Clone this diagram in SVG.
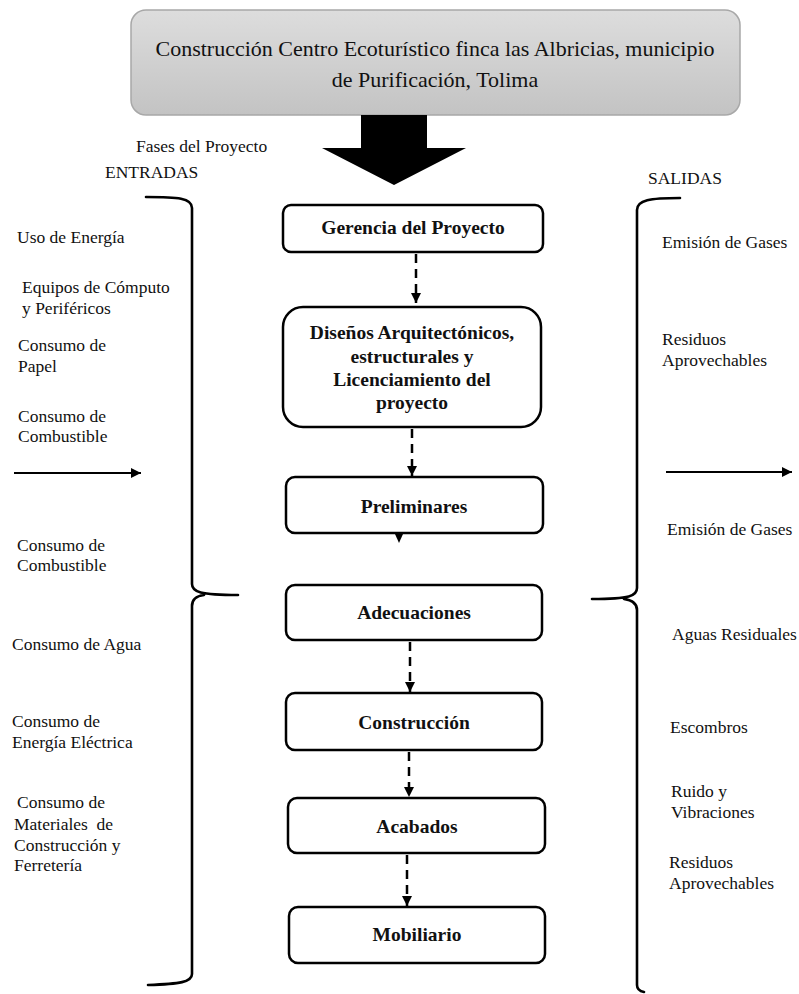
<svg xmlns="http://www.w3.org/2000/svg" width="799" height="994" viewBox="0 0 799 994">
  <defs>
    <linearGradient id="titleFill" x1="0" y1="0" x2="0" y2="1">
      <stop offset="0" stop-color="#dddddd"/>
      <stop offset="1" stop-color="#c3c3c3"/>
    </linearGradient>
    <marker id="tri" viewBox="0 0 10 10" refX="10" refY="5" markerWidth="10" markerHeight="10" markerUnits="userSpaceOnUse" orient="auto">
      <path d="M0,0 L10,5 L0,10 Z" fill="#000"/>
    </marker>
  </defs>
  <style>
    text { font-family: "Liberation Serif", "Times New Roman", serif; fill: #111; }
    .side { font-size: 17.5px; }
    .title { font-size: 22px; text-anchor: middle; }
    .lbl { font-size: 19.5px; font-weight: bold; text-anchor: middle; }
    .box { fill: #fff; stroke: #000; stroke-width: 2.5; }
    .dash { fill: none; stroke: #000; stroke-width: 2.5; stroke-dasharray: 9 6; marker-end: url(#tri); }
    .brace { fill: none; stroke: #000; stroke-width: 2.6; stroke-linecap: round; }
    .flow { fill: none; stroke: #000; stroke-width: 2; marker-end: url(#tri); }
  </style>

  <rect width="799" height="994" fill="#fff"/>

  <!-- project title -->
  <g id="title">
    <rect x="131" y="10" width="609" height="105" rx="15" fill="url(#titleFill)" stroke="#a8a8a8" stroke-width="1.5"/>
    <text class="title" x="435" y="56">Construcción Centro Ecoturístico finca las Albricias, municipio</text>
    <text class="title" x="435" y="87">de Purificación, Tolima</text>
  </g>

  <!-- big downward arrow -->
  <path id="bigArrow" d="M361,115 L427,115 L427,148 L466,148 L394,185 L322,148 L361,148 Z" fill="#000"/>

  <!-- headings -->
  <text class="side" x="136" y="152">Fases del Proyecto</text>
  <text class="side" x="105" y="178">ENTRADAS</text>
  <text class="side" x="648" y="184">SALIDAS</text>

  <!-- braces -->
  <path class="brace" d="M146,197 C178,197 192,198 192,208 L192,584 C192,592 200,595 238,595 M204,595 C196,596 192,600 192,606 L192,974 C192,982 180,984 148,985"/>
  <path class="brace" d="M680,198 C650,198 637,200 637,210 L637,588 C637,596 630,599 592,599 M624,599 C632,600 637,603 637,610 L637,985 C637,989 639,991 644,992"/>

  <!-- side flow arrows -->
  <line class="flow" x1="14" y1="473" x2="141" y2="473"/>
  <line class="flow" x1="666" y1="472" x2="792" y2="472"/>

  <!-- inputs -->
  <g id="inputs">
    <text class="side" x="17" y="243">Uso de Energía</text>
    <text class="side" x="22" y="293">Equipos de Cómputo</text>
    <text class="side" x="22" y="314">y Periféricos</text>
    <text class="side" x="18" y="351">Consumo de</text>
    <text class="side" x="18" y="372">Papel</text>
    <text class="side" x="18" y="422">Consumo de</text>
    <text class="side" x="18" y="442">Combustible</text>
    <text class="side" x="17" y="551">Consumo de</text>
    <text class="side" x="17" y="571">Combustible</text>
    <text class="side" x="12" y="650">Consumo de Agua</text>
    <text class="side" x="12" y="727">Consumo de</text>
    <text class="side" x="12" y="748">Energía Eléctrica</text>
    <text class="side" x="17" y="808">Consumo de</text>
    <text class="side" x="14" y="830" xml:space="preserve">Materiales  de</text>
    <text class="side" x="14" y="851">Construcción y</text>
    <text class="side" x="14" y="871">Ferretería</text>
  </g>

  <!-- outputs -->
  <g id="outputs">
    <text class="side" x="662" y="248">Emisión de Gases</text>
    <text class="side" x="662" y="345">Residuos</text>
    <text class="side" x="662" y="366">Aprovechables</text>
    <text class="side" x="667" y="535">Emisión de Gases</text>
    <text class="side" x="672" y="640">Aguas Residuales</text>
    <text class="side" x="670" y="733">Escombros</text>
    <text class="side" x="671" y="797">Ruido y</text>
    <text class="side" x="671" y="818">Vibraciones</text>
    <text class="side" x="669" y="868">Residuos</text>
    <text class="side" x="669" y="889">Aprovechables</text>
  </g>

  <!-- project phases -->
  <g id="gerencia">
    <rect class="box" x="283" y="205" width="260" height="47" rx="8"/>
    <text class="lbl" x="413" y="234">Gerencia del Proyecto</text>
  </g>
  <g id="disenos">
    <rect class="box" x="283" y="307" width="258" height="120" rx="20"/>
    <text class="lbl" x="412" y="339">Diseños Arquitectónicos,</text>
    <text class="lbl" x="412" y="363">estructurales y</text>
    <text class="lbl" x="412" y="386">Licenciamiento del</text>
    <text class="lbl" x="412" y="409">proyecto</text>
  </g>
  <g id="preliminares">
    <rect class="box" x="286" y="477" width="257" height="56" rx="9"/>
    <text class="lbl" x="414" y="513">Preliminares</text>
  </g>
  <g id="adecuaciones">
    <rect class="box" x="286" y="585" width="256" height="55" rx="9"/>
    <text class="lbl" x="414" y="619">Adecuaciones</text>
  </g>
  <g id="construccion">
    <rect class="box" x="286" y="693" width="256" height="57" rx="9"/>
    <text class="lbl" x="414" y="729">Construcción</text>
  </g>
  <g id="acabados">
    <rect class="box" x="288" y="798" width="257" height="55" rx="9"/>
    <text class="lbl" x="417" y="833">Acabados</text>
  </g>
  <g id="mobiliario">
    <rect class="box" x="289" y="907" width="256" height="56" rx="9"/>
    <text class="lbl" x="417" y="941">Mobiliario</text>
  </g>

  <!-- phase connectors -->
  <g id="connectors">
    <line class="dash" x1="416" y1="254" x2="416" y2="303"/>
    <line class="dash" x1="412" y1="429" x2="412" y2="476"/>
    <path d="M395,534 L403,534 L399,543 Z" fill="#000"/>
    <line class="dash" x1="410" y1="642" x2="410" y2="692"/>
    <line class="dash" x1="409" y1="752" x2="409" y2="797"/>
    <line class="dash" x1="407" y1="855" x2="407" y2="906"/>
  </g>
</svg>
